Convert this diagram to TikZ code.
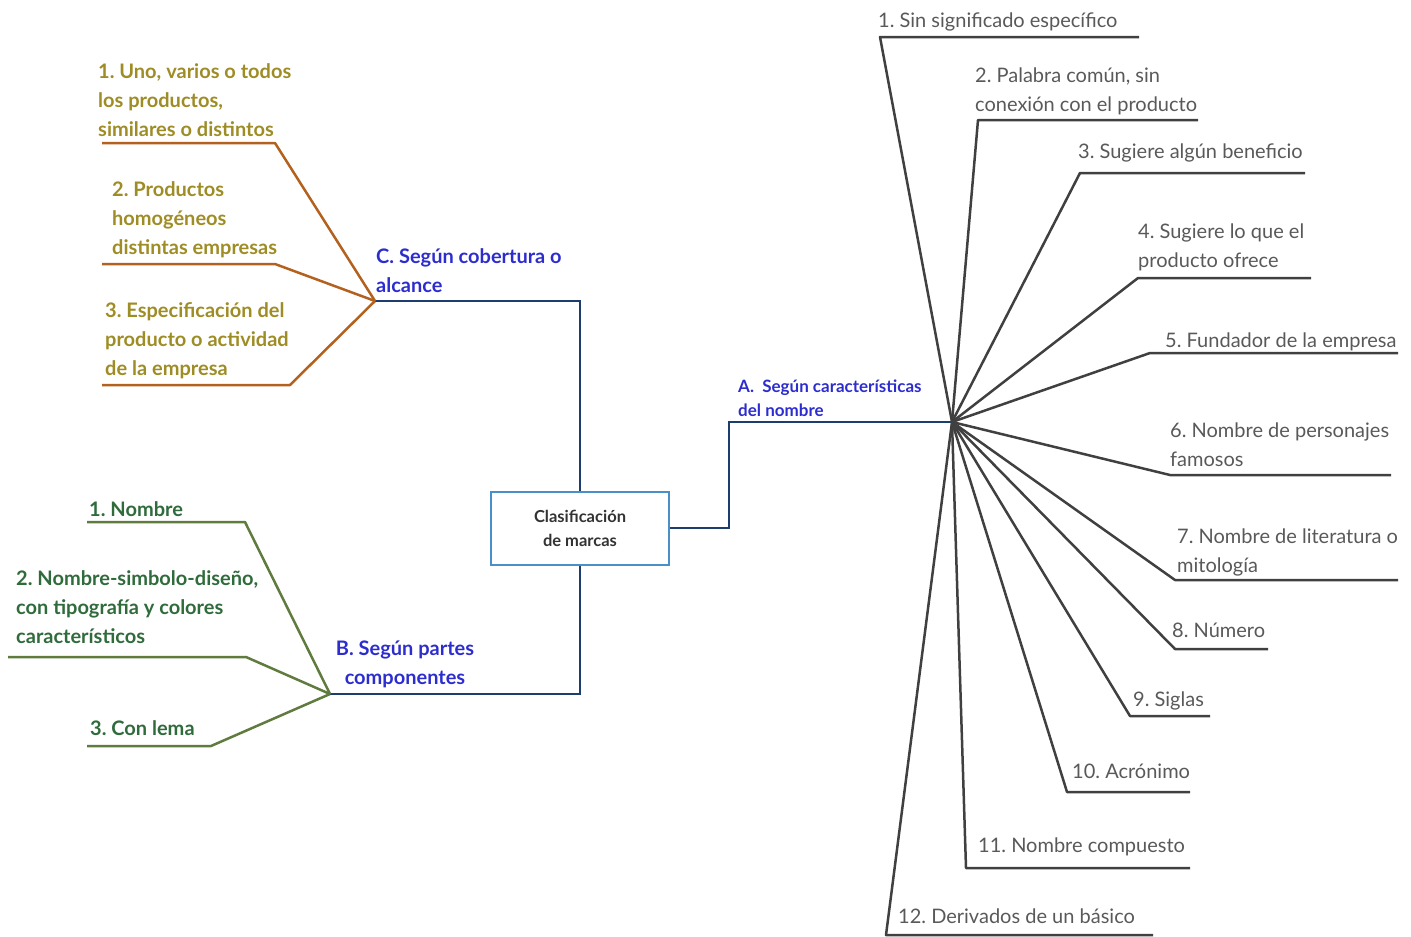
\documentclass[tikz,border=0pt]{standalone}
\usepackage{fontspec}
\setmainfont{Lato}
\usetikzlibrary{positioning}
\frenchspacing
\definecolor{navyline}{HTML}{1C3D6E}
\definecolor{boxblue}{HTML}{4A90C8}
\definecolor{labelblue}{HTML}{2D2DCF}
\definecolor{olivetext}{HTML}{9E8C24}
\definecolor{brownline}{HTML}{B3611F}
\definecolor{greentext}{HTML}{2F6B3B}
\definecolor{greenline}{HTML}{5F7B3E}
\definecolor{graytext}{HTML}{595959}
\definecolor{grayline}{HTML}{404040}
\begin{document}
\begin{tikzpicture}[x=1pt,y=-1pt]

    \tikzset{
      item/.style={anchor=base west, inner sep=0pt, align=left,
        font=\fontsize{20}{29}\selectfont},
      aitem/.style={item, text=graytext},
      bitem/.style={item, text=greentext, font=\fontsize{20}{29}\selectfont\bfseries},
      citem/.style={item, text=olivetext, font=\fontsize{20}{29}\selectfont\bfseries},
      branch/.style={inner sep=0pt, text=labelblue,
        font=\fontsize{20}{29}\selectfont\bfseries},
      rootbox/.style={draw=boxblue, line width=2pt, fill=white,
        minimum width=178pt, minimum height=73pt, align=center,
        text=black!80, font=\fontsize{16.5}{24}\selectfont\bfseries},
      trunk/.style={draw=navyline, line width=2.5pt},
      aline/.style={draw=grayline, line width=2.5pt, line join=round},
      bline/.style={draw=greenline, line width=2.5pt, line join=round},
      cline/.style={draw=brownline, line width=2.5pt, line join=round},
    }
    \useasboundingbox (0,0) rectangle (1411,937);

    % centre
    \node[rootbox] (root) at (580,528) {Clasificación\\de marcas};
    \coordinate (hubA) at (952,422);
    \coordinate (hubB) at (330,694);
    \coordinate (hubC) at (375,301);
    \draw[trunk] (root.north) |- (hubC);
    \draw[trunk] (root.south) |- (hubB);
    \draw[trunk] (root.east) -- ++(59,0) |- (hubA);

    % branch labels (base = last line)
    \node[branch, anchor=base west, align=left] (labC) at (376,292) {C. Según cobertura o\\alcance};
    \node[branch, anchor=base, align=center] (labB) at (405,684) {B. Según partes\\componentes};
    \node[branch, anchor=base west, align=left, font=\fontsize{17}{24}\selectfont\bfseries] (labA) at (738,416) {A.\ \ Según características\\del nombre};

    % C: cobertura
    \node[citem] (c1) at (98,136) {1. Uno, varios o todos\\los productos,\\similares o distintos};
    \coordinate (c1s) at (102,143); \coordinate (c1e) at (275,143);
    \draw[cline] (c1s) -- (c1e) -- (hubC);
    \node[citem] (c2) at (112,254) {2. Productos\\homogéneos\\distintas empresas};
    \coordinate (c2s) at (102,264); \coordinate (c2e) at (275,264);
    \draw[cline] (c2s) -- (c2e) -- (hubC);
    \node[citem] (c3) at (105,375) {3. Especificación del\\producto o actividad\\de la empresa};
    \coordinate (c3s) at (102,385); \coordinate (c3e) at (290,385);
    \draw[cline] (c3s) -- (c3e) -- (hubC);

    % B: partes
    \node[bitem] (b1) at (89,516) {1. Nombre};
    \coordinate (b1s) at (87,522); \coordinate (b1e) at (245,522);
    \draw[bline] (b1s) -- (b1e) -- (hubB);
    \node[bitem] (b2) at (16,643) {2. Nombre-simbolo-diseño,\\con tipografía y colores\\característicos};
    \coordinate (b2s) at (8,657); \coordinate (b2e) at (246,657);
    \draw[bline] (b2s) -- (b2e) -- (hubB);
    \node[bitem] (b3) at (90,735) {3. Con lema};
    \coordinate (b3s) at (87,746); \coordinate (b3e) at (211,746);
    \draw[bline] (b3s) -- (b3e) -- (hubB);

    % A: nombre
    \node[aitem] (a1) at (878,27) {1. Sin significado específico};
    \coordinate (a1s) at (880,37); \coordinate (a1e) at (1139,37);
    \node[aitem] (a2) at (975,111) {2. Palabra común, sin\\conexión con el producto};
    \coordinate (a2s) at (978,120); \coordinate (a2e) at (1198,120);
    \node[aitem] (a3) at (1078,158) {3. Sugiere algún beneficio};
    \coordinate (a3s) at (1080,173); \coordinate (a3e) at (1305,173);
    \node[aitem] (a4) at (1138,267) {4. Sugiere lo que el\\producto ofrece};
    \coordinate (a4s) at (1138,278); \coordinate (a4e) at (1311,278);
    \node[aitem] (a5) at (1165,347) {5. Fundador de la empresa};
    \coordinate (a5s) at (1150,353); \coordinate (a5e) at (1398,353);
    \node[aitem] (a6) at (1170,466) {6. Nombre de personajes\\famosos};
    \coordinate (a6s) at (1170,475); \coordinate (a6e) at (1391,475);
    \node[aitem] (a7) at (1177,572) {7. Nombre de literatura o\\mitología};
    \coordinate (a7s) at (1175,580); \coordinate (a7e) at (1398,580);
    \node[aitem] (a8) at (1172,637) {8. Número};
    \coordinate (a8s) at (1175,649); \coordinate (a8e) at (1268,649);
    \node[aitem] (a9) at (1133,706) {9. Siglas};
    \coordinate (a9s) at (1130,716); \coordinate (a9e) at (1210,716);
    \node[aitem] (a10) at (1072,778) {10. Acrónimo};
    \coordinate (a10s) at (1067,792); \coordinate (a10e) at (1190,792);
    \node[aitem] (a11) at (978,852) {11. Nombre compuesto};
    \coordinate (a11s) at (966,868); \coordinate (a11e) at (1190,868);
    \node[aitem] (a12) at (898,923) {12. Derivados de un básico};
    \coordinate (a12s) at (886,935); \coordinate (a12e) at (1153,935);
    \foreach \i in {1,...,12}
      \draw[aline] (hubA) -- (a\i s) -- (a\i e);

\end{tikzpicture}
\end{document}
